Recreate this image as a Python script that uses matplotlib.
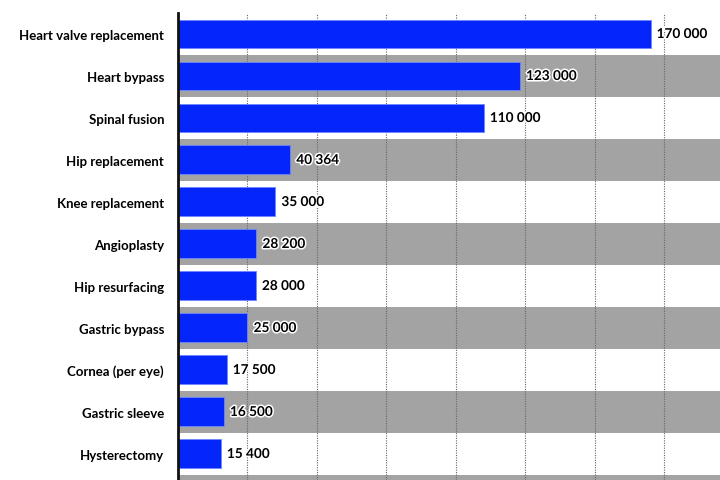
import matplotlib
matplotlib.use('Agg')
import matplotlib.pyplot as plt
import matplotlib.patheffects as pe

procedures = ['Heart valve replacement', 'Heart bypass', 'Spinal fusion', 'Hip replacement',
              'Knee replacement', 'Angioplasty', 'Hip resurfacing', 'Gastric bypass',
              'Cornea (per eye)', 'Gastric sleeve', 'Hysterectomy']
costs = [170000, 123000, 110000, 40364, 35000, 28200, 28000, 25000, 17500, 16500, 15400]
grid_ticks = [25000, 50000, 75000, 100000, 125000, 150000, 175000]

plt.rcParams['font.family'] = ['Lato', 'DejaVu Sans']

fig = plt.figure(figsize=(7.2, 4.81), dpi=100)
ax = fig.add_axes([178 / 720, 0, 1 - 178 / 720, 467 / 481])

rows = list(range(len(procedures)))
# grey bands on every other row (one more peeks out at the bottom)
for i in range(1, len(procedures) + 1, 2):
    ax.axhspan(i - 0.5, i + 0.5, color='#a3a3a3', zorder=0, lw=0)

for t in grid_ticks:
    ax.axvline(t, color='#666666', lw=0.8, ls=(0, (1, 1.2)), zorder=1)

ax.barh(rows, costs, height=0.69, color='#0526fb', edgecolor='#6f86ff', lw=0.6, zorder=2)

for i, v in enumerate(costs):
    txt = f'{v:,}'.replace(',', ' ')
    ax.text(v + 2200, i, txt, va='center', ha='left', fontsize=9.8, fontweight='bold',
            color='black', zorder=3,
            path_effects=[pe.withStroke(linewidth=2.2, foreground='white')])

ax.set_xlim(0, 195000)
ax.set_ylim(len(procedures) - 0.5 + 0.12, -0.5)
ax.set_yticks(rows)
ax.set_yticklabels(procedures, fontsize=9.5, fontweight='bold')
ax.set_xticks([])
ax.tick_params(axis='y', length=0, pad=10)
for s in ['top', 'right', 'bottom']:
    ax.spines[s].set_visible(False)
ax.spines['left'].set_linewidth(2)
ax.spines['left'].set_color('#111111')
ax.set_facecolor('white')

fig.savefig('out.png', dpi=100)
